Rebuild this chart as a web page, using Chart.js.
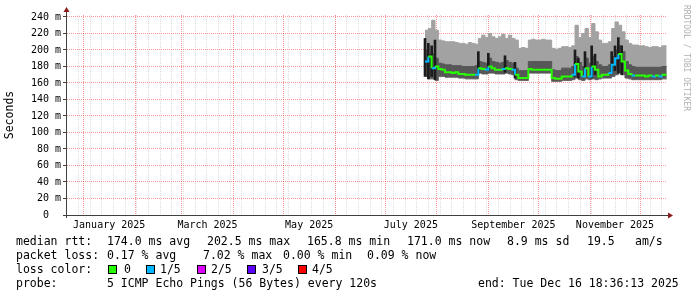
<!DOCTYPE html>
<html>
<head>
<meta charset="utf-8">
<script src="https://cdn.jsdelivr.net/npm/chart.js@4.4.1/dist/chart.umd.min.js"></script>
<style>
  body { margin: 0; background: #fff; }
  #wrap { position: relative; width: 697px; height: 297px; font-family: "DejaVu Sans Mono", monospace; }
  canvas { position: absolute; left: 0; top: 0; }
  .t { position: absolute; font-size: 11.5px; line-height: 14px; white-space: pre; color: #000; }
  .box { position: absolute; top: 265px; width: 7px; height: 7px; border: 1px solid #000; }
  #wm { position: absolute; left: 682px; top: 5px; writing-mode: vertical-rl; font-size: 8px; line-height: 9px; color: #b0b0b0; white-space: pre; }
</style>
</head>
<body>
<div id="wrap">
  <canvas id="chart" width="697" height="297"></canvas>
  <div id="wm">RRDTOOL / TOBI OETIKER</div>

  <div class="t" style="left:16px;top:234px">median rtt:</div>
  <div class="t" style="left:107px;top:234px">174.0 ms avg</div>
  <div class="t" style="left:207px;top:234px">202.5 ms max</div>
  <div class="t" style="left:307px;top:234px">165.8 ms min</div>
  <div class="t" style="left:407px;top:234px">171.0 ms now</div>
  <div class="t" style="left:507px;top:234px">8.9 ms sd</div>
  <div class="t" style="left:587px;top:234px">19.5</div>
  <div class="t" style="left:635px;top:234px">am/s</div>

  <div class="t" style="left:16px;top:248px">packet loss:</div>
  <div class="t" style="left:107px;top:248px">0.17 % avg</div>
  <div class="t" style="left:203px;top:248px">7.02 % max</div>
  <div class="t" style="left:283px;top:248px">0.00 % min</div>
  <div class="t" style="left:367px;top:248px">0.09 % now</div>

  <div class="t" style="left:16px;top:262px">loss color:</div>
  <div class="box" style="left:108px;background:#26ff00"></div>
  <div class="t" style="left:124px;top:262px">0</div>
  <div class="box" style="left:146px;background:#00b8ff"></div>
  <div class="t" style="left:160px;top:262px">1/5</div>
  <div class="box" style="left:197px;background:#dd00ff"></div>
  <div class="t" style="left:211px;top:262px">2/5</div>
  <div class="box" style="left:247px;background:#5e00ff"></div>
  <div class="t" style="left:262px;top:262px">3/5</div>
  <div class="box" style="left:298px;background:#ff0000"></div>
  <div class="t" style="left:312px;top:262px">4/5</div>

  <div class="t" style="left:16px;top:276px">probe:</div>
  <div class="t" style="left:107px;top:276px">5 ICMP Echo Pings (56 Bytes) every 120s</div>
  <div class="t" style="left:478px;top:276px">end: Tue Dec 16 18:36:13 2025</div>
</div>

<script>
// days counted from 1 Jan 2025
const days = [205, 207, 209, 211, 213, 215, 217, 219, 221, 223, 225, 227, 229, 231, 233, 235,
  237, 239, 241, 243, 245, 247, 249, 251, 253, 255, 257, 259, 261, 263, 265, 267, 269, 271,
  273, 275, 277, 279, 281, 283, 285, 287, 289, 291, 293, 295, 297, 299, 301, 303, 305, 307,
  309, 311, 313, 315, 317, 319, 321, 323, 325, 327, 329, 331, 333, 335, 337, 339, 341, 343,
  345, 347, 350];

// ms values
const smokeTop = [224, 226, 236, 224, 212, 211, 210, 210, 210, 209, 208, 208, 207, 209, 208, 207,
  214, 218, 215, 220, 216, 214, 216, 219, 214, 218, 214, 212, 202, 203, 202, 212, 213, 212,
  212, 213, 212, 212, 202, 201, 202, 204, 204, 203, 205, 230, 215, 220, 226, 215, 232, 222,
  212, 208, 208, 210, 226, 234, 230, 222, 212, 208, 206, 206, 205, 205, 204, 203, 204, 204,
  203, 205, 205];
const smokeDark = [200, 195, 195, 190, 184, 183, 182, 182, 181, 181, 181, 180, 180, 180, 180, 181,
  186, 185, 184, 190, 186, 185, 184, 185, 187, 185, 184, 178, 175, 175, 175, 186, 186, 186,
  186, 186, 186, 186, 176, 175, 175, 178, 178, 178, 180, 192, 185, 180, 190, 184, 192, 186,
  182, 180, 180, 182, 192, 200, 205, 198, 186, 182, 180, 179, 179, 179, 179, 179, 179, 179,
  179, 180, 180];
const median = [186, 192, 178, 180, 177, 176, 173, 173, 172, 173, 171, 171, 170, 170, 170, 170,
  178, 177, 176, 180, 178, 176, 176, 177, 178, 177, 176, 170, 166, 166, 166, 177, 176, 176,
  176, 176, 176, 176, 166, 165, 165, 168, 168, 168, 170, 183, 174, 168, 178, 168, 180, 176,
  168, 170, 170, 172, 182, 190, 195, 186, 175, 171, 169, 169, 169, 169, 168, 169, 168, 169,
  168, 170, 170];
const smokeLow = [168, 165, 165, 163, 168, 168, 167, 167, 167, 167, 166, 166, 165, 165, 165, 165,
  172, 171, 171, 172, 172, 171, 171, 171, 172, 171, 170, 164, 163, 163, 163, 172, 172, 172,
  172, 172, 172, 172, 162, 162, 162, 163, 163, 163, 164, 166, 164, 163, 165, 164, 165, 164,
  165, 166, 166, 166, 168, 170, 172, 170, 166, 165, 164, 164, 164, 164, 164, 164, 164, 164,
  164, 165, 165];
// lost pings out of 5
const lost = [0, 1, 0, 1, 0, 0, 0, 0, 0, 0, 0, 0, 0, 0, 0, 0,
  1, 0, 0, 1, 0, 0, 0, 0, 1, 0, 0, 1, 0, 0, 0, 0, 0, 0,
  0, 0, 0, 0, 0, 0, 0, 0, 0, 0, 0, 1, 0, 0, 1, 0, 1, 0,
  0, 0, 0, 0, 1, 1, 1, 0, 0, 0, 0, 1, 0, 0, 0, 0, 0, 1,
  0, 1, 0];

// dense black bursts
const spikeDays = [205, 207, 209, 211, 237, 243, 253, 259, 295, 297, 301, 305, 307, 317, 319, 321, 323];
const spikeLow  = [168, 165, 168, 164, 172, 175, 173, 166, 168, 166, 168, 166, 170, 172, 175, 172, 170];
const spikeHigh = [214, 208, 205, 212, 198, 196, 193, 185, 200, 190, 198, 205, 195, 198, 205, 215, 205];

const monthLabels = ['January 2025', 'March 2025', 'May 2025', 'July 2025', 'September 2025', 'November 2025'];
const monthLabelDays = [15.5, 74.5, 135.5, 196.5, 258, 319];
const monthStarts = [0, 31, 59, 90, 120, 151, 181, 212, 243, 273, 304, 334];
const yTicks = [0, 10, 20, 30, 40, 50, 60, 70, 80, 90, 100, 110, 120, 130, 140, 150, 160, 170, 180, 190, 200, 210, 220, 230, 240];

const lossColors = ['#26ff00', '#00b8ff', '#dd00ff', '#5e00ff', '#ff0000'];

const X_MIN = -9.8, X_MAX = 350.2;
const mono = '"DejaVu Sans Mono", monospace';
const minorCol = 'rgba(128,128,128,0.28)';
const majorCol = 'rgba(240,30,30,0.45)';

const sundays = [];
for (let d = -3; d <= X_MAX; d += 7) sundays.push(d);

const pts = arr => days.map((d, i) => ({x: d, y: arr[i]}));

const axesPlugin = {
  id: 'rrdAxes',
  afterDraw(chart) {
    const {ctx, chartArea: a} = chart;
    ctx.save();
    ctx.strokeStyle = '#404040';
    ctx.lineWidth = 1;
    ctx.beginPath();
    ctx.moveTo(a.left - 0.5, a.bottom + 3);
    ctx.lineTo(a.left - 0.5, a.top - 3);
    ctx.moveTo(a.left - 4, a.bottom + 0.5);
    ctx.lineTo(a.right + 2, a.bottom + 0.5);
    ctx.stroke();
    ctx.fillStyle = '#8b1a1a';
    ctx.beginPath();
    ctx.moveTo(a.left - 3.5, a.top - 3);
    ctx.lineTo(a.left + 2.5, a.top - 3);
    ctx.lineTo(a.left - 0.5, a.top - 8);
    ctx.closePath();
    ctx.fill();
    ctx.beginPath();
    ctx.moveTo(a.right + 1, a.bottom - 2.5);
    ctx.lineTo(a.right + 1, a.bottom + 3.5);
    ctx.lineTo(a.right + 6, a.bottom + 0.5);
    ctx.closePath();
    ctx.fill();
    ctx.restore();
  }
};

new Chart(document.getElementById('chart'), {
  type: 'line',
  data: {
    datasets: [
      {
        label: 'median',
        data: pts(median),
        borderWidth: 2,
        borderColor: lossColors[0],
        segment: { borderColor: c => lossColors[lost[c.p1DataIndex]] },
        stepped: true,
        pointRadius: 0,
        fill: false,
        order: 0
      },
      {
        type: 'bar',
        label: 'burst',
        data: spikeDays.map((d, i) => ({x: d, y: [spikeLow[i], spikeHigh[i]]})),
        backgroundColor: '#1c1c1c',
        barThickness: 2,
        order: 1
      },
      {
        label: 'low',
        data: pts(smokeLow),
        borderWidth: 1,
        borderColor: '#555555',
        stepped: true,
        pointRadius: 0,
        fill: false,
        order: 4
      },
      {
        label: 'top',
        data: pts(smokeTop),
        borderWidth: 1,
        borderColor: '#a2a2a2',
        backgroundColor: '#a2a2a2',
        stepped: true,
        pointRadius: 0,
        fill: 2,
        order: 3
      },
      {
        label: 'dark',
        data: pts(smokeDark),
        borderWidth: 1,
        borderColor: '#575757',
        backgroundColor: '#575757',
        stepped: true,
        pointRadius: 0,
        fill: 2,
        order: 2
      }
    ]
  },
  options: {
    responsive: false,
    animation: false,
    layout: { padding: { left: 0, top: 15, right: 30, bottom: 0 } },
    plugins: {
      legend: { display: false },
      tooltip: { enabled: false }
    },
    scales: {
      x: {
        type: 'linear',
        position: 'bottom',
        min: X_MIN,
        max: X_MAX,
        offset: false,
        afterBuildTicks: s => { s.ticks = monthLabelDays.map(v => ({value: v})); },
        afterFit: s => { s.height = 82; },
        ticks: {
          font: { family: mono, size: 10 },
          color: '#000',
          padding: 4,
          maxRotation: 0,
          autoSkip: false,
          callback: (v, i) => monthLabels[i]
        },
        grid: { display: false, drawTicks: false, tickLength: 0 },
        border: { display: false }
      },
      xWeek: {
        type: 'linear',
        position: 'bottom',
        min: X_MIN,
        max: X_MAX,
        offset: false,
        z: 1,
        afterBuildTicks: s => { s.ticks = sundays.map(v => ({value: v})); },
        afterFit: s => { s.height = 0; },
        ticks: { display: false },
        grid: { color: minorCol, drawTicks: false },
        border: { display: false, dash: [1, 1] }
      },
      xMonth: {
        type: 'linear',
        position: 'bottom',
        min: X_MIN,
        max: X_MAX,
        offset: false,
        z: 1,
        afterBuildTicks: s => { s.ticks = monthStarts.map(v => ({value: v})); },
        afterFit: s => { s.height = 0; },
        ticks: { display: false },
        grid: { color: majorCol, drawTicks: false },
        border: { display: false, dash: [1, 1] }
      },
      y: {
        min: 0,
        max: 242.4,
        z: 1,
        afterBuildTicks: s => { s.ticks = yTicks.map(v => ({value: v})); },
        afterFit: s => { s.width = 67; },
        ticks: {
          font: { family: mono, size: 10 },
          color: '#000',
          padding: 2,
          callback: v => (v % 20 ? '' : (v ? v + ' m' : '0  '))
        },
        grid: {
          color: c => (c.tick && c.tick.value % 20 ? minorCol : majorCol),
          tickColor: c => (c.tick && c.tick.value % 20 ? 'rgba(0,0,0,0)' : '#404040'),
          tickLength: 4
        },
        border: { display: false, dash: [1, 1] },
        title: {
          display: true,
          text: 'Seconds',
          font: { family: mono, size: 11.5 },
          color: '#000',
          padding: { top: 3, bottom: 0 }
        }
      }
    }
  },
  plugins: [axesPlugin]
});
</script>
</body>
</html>
